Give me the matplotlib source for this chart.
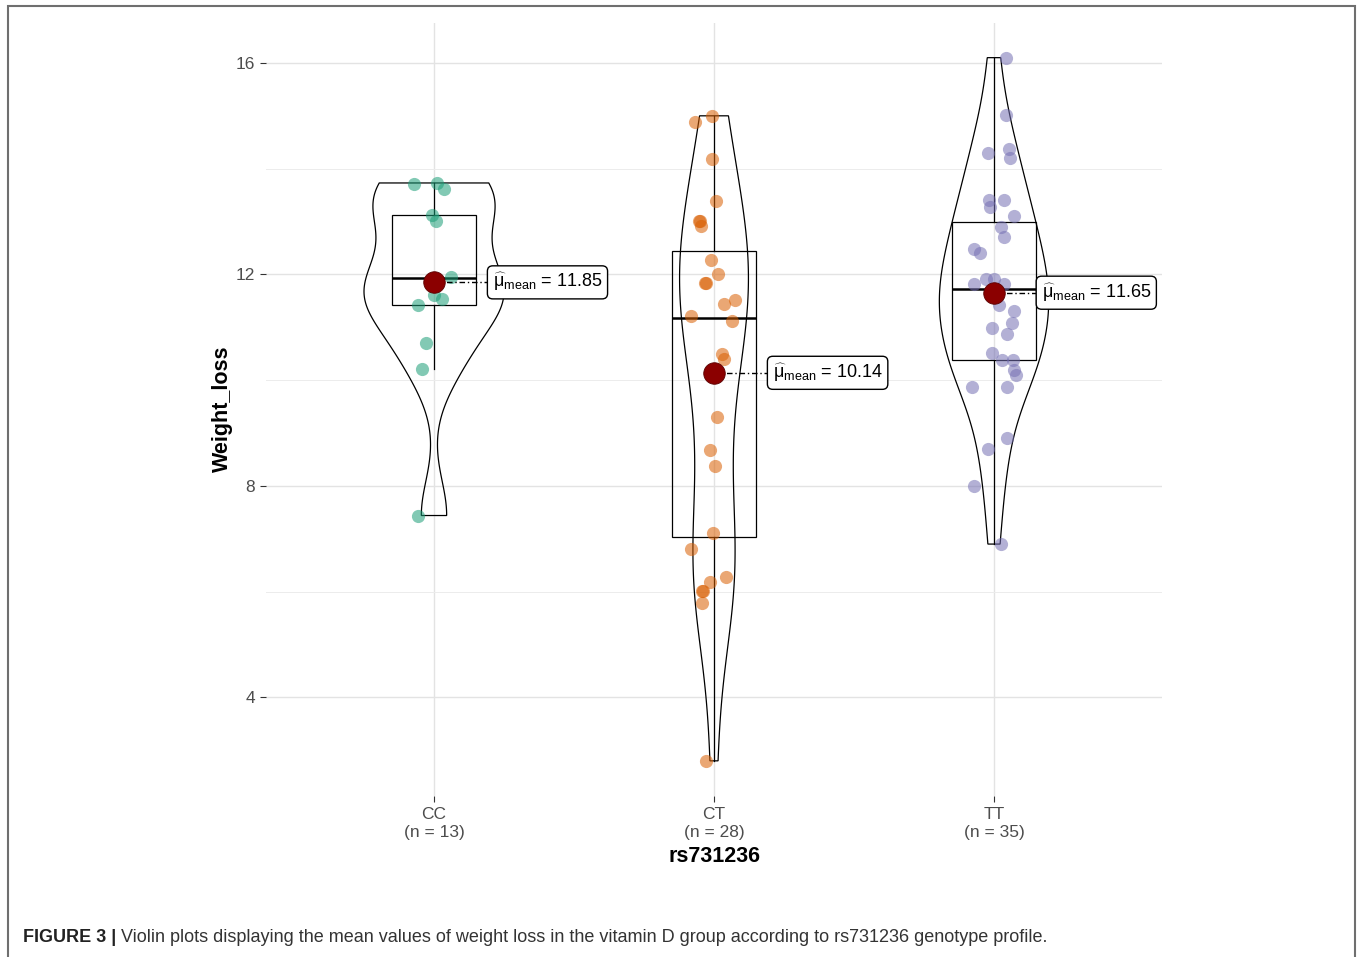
import numpy as np
import matplotlib
matplotlib.use("Agg")
import matplotlib.pyplot as plt
from matplotlib.patches import Rectangle
from matplotlib.ticker import MultipleLocator

# ---------------- data ----------------
groups = ["CC", "CT", "TT"]
group_colors = ["#1B9E77", "#D95F02", "#7570B3"]

cc_values = [13.71, 13.73, 13.62, 13.13, 13.01, 11.95, 11.54, 11.43, 10.71, 10.22, 7.44, 11.62, 11.94]
cc_jitter = [-0.071, 0.011, 0.036, -0.007, 0.007, 0.061, 0.029, -0.057, -0.029, -0.043, -0.057, 0.0, 0.0]

ct_values = [15.00, 14.88, 14.18, 13.38, 13.01, 13.01, 12.92, 12.28, 12.01, 11.84, 11.84, 11.52, 11.44,
             11.22, 11.12, 10.50, 10.40, 9.30, 8.68, 8.38, 7.10, 6.81, 6.28, 6.18, 6.02, 6.02, 5.78, 2.80]
ct_jitter = [-0.007, -0.068, -0.007, 0.007, -0.054, -0.050, -0.046, -0.011, 0.014, -0.032, -0.029, 0.075,
             0.036, -0.082, 0.064, 0.029, 0.036, 0.011, -0.014, 0.004, -0.004, -0.082, 0.043, -0.014,
             -0.043, -0.039, -0.043, -0.029]

tt_values = [16.10, 15.01, 14.38, 14.29, 14.21, 13.40, 13.40, 13.27, 13.10, 12.89, 12.70, 12.49, 12.40,
             11.92, 11.92, 11.81, 11.81, 11.72, 11.59, 11.43, 11.30, 11.09, 10.98, 10.87, 10.51, 10.39,
             10.39, 10.20, 10.09, 9.88, 9.88, 8.90, 8.69, 7.99, 6.90]
tt_jitter = [0.043, 0.043, 0.054, -0.021, 0.057, -0.018, 0.036, -0.014, 0.071, 0.025, 0.036, -0.071,
             -0.050, -0.029, 0.0, -0.071, 0.036, 0.0, 0.011, 0.018, 0.071, 0.064, -0.007, 0.046, -0.007,
             0.029, 0.068, 0.071, 0.079, -0.079, 0.046, 0.046, -0.021, -0.071, 0.025]

all_values = [cc_values, ct_values, tt_values]
all_jitter = [cc_jitter, ct_jitter, tt_jitter]
label_offsets = [0.21, 0.21, 0.17]   # x offset of mean label text from group centre

caption_bold = "FIGURE 3 |"
caption_rest = (" Violin plots displaying the mean values of weight loss in the vitamin D group "
                "according to rs731236 genotype profile.")

# ---------------- style ----------------
plt.rcParams["font.family"] = ["Liberation Sans", "DejaVu Sans"]
plt.rcParams["mathtext.fontset"] = "custom"
plt.rcParams["mathtext.rm"] = "Liberation Sans"
plt.rcParams["mathtext.it"] = "Liberation Sans:italic"
plt.rcParams["mathtext.bf"] = "Liberation Sans:bold"

W, H = 1358, 957
fig = plt.figure(figsize=(W / 100, H / 100), dpi=100)
ax = fig.add_axes([266 / W, 1 - 796 / H, (1162 - 266) / W, (796 - 22.5) / H])

positions = np.arange(1, len(groups) + 1)


def kde_r(vals, grid):
    v = np.asarray(vals, dtype=float)
    n = len(v)
    sd = np.std(v, ddof=1)
    iqr = np.percentile(v, 75) - np.percentile(v, 25)
    bw = 0.9 * min(sd, iqr / 1.34) * n ** (-0.2)
    z = (grid[:, None] - v[None, :]) / bw
    return np.exp(-0.5 * z ** 2).sum(axis=1) / (n * bw * np.sqrt(2 * np.pi))


# densities (trimmed to data range), scale = "area"
grids, dens = [], []
for vals in all_values:
    g = np.linspace(min(vals), max(vals), 512)
    grids.append(g)
    dens.append(kde_r(vals, g))
dmax = max(d.max() for d in dens)
violin_half = 0.25

for pos, g, d in zip(positions, grids, dens):
    w = d / dmax * violin_half
    xs = np.concatenate([pos - w, (pos + w)[::-1]])
    ys = np.concatenate([g, g[::-1]])
    ax.fill(xs, ys, facecolor="none", edgecolor="black", linewidth=0.9, zorder=2)

# boxplots
ax.boxplot(all_values, positions=positions, widths=0.3, showfliers=False, whis=1.5,
           patch_artist=True, manage_ticks=False,
           boxprops=dict(facecolor="none", edgecolor="black", linewidth=0.9),
           whiskerprops=dict(color="black", linewidth=0.9),
           capprops=dict(linewidth=0),
           medianprops=dict(color="black", linewidth=1.8),
           zorder=3)

# jittered points
for pos, vals, jit, col in zip(positions, all_values, all_jitter, group_colors):
    ax.scatter(pos + np.asarray(jit), vals, s=90, color=col, alpha=0.55, linewidths=0, zorder=4)

# means + labels
for pos, vals, off in zip(positions, all_values, label_offsets):
    m = float(np.mean(vals))
    lx = pos + off
    ax.plot([pos, lx - 0.02], [m, m], color="black", linewidth=1.0,
            linestyle=(0, (4, 2, 1, 2)), zorder=5)
    ax.scatter([pos], [m], s=240, color="#8B0000", edgecolors="#5a0000", linewidths=0.6, zorder=6)
    ax.text(lx, m, r"$\widehat{\mathrm{\mu}}_{\mathrm{mean}}$" + f" = {m:.2f}", fontsize=13,
            ha="left", va="center", color="black", zorder=7,
            bbox=dict(boxstyle="round,pad=0.3,rounding_size=0.3", facecolor="white",
                      edgecolor="black", linewidth=1.0))

# axes
lo = min(min(v) for v in all_values)
hi = max(max(v) for v in all_values)
ext = (hi - lo) * 0.05
ax.set_ylim(lo - ext, hi + ext)
ax.set_xlim(0.4, 3.6)
ax.set_yticks([4, 8, 12, 16])
ax.yaxis.set_minor_locator(MultipleLocator(2))
ax.set_xticks(positions)
ax.set_xticklabels([f"{g}\n(n = {len(v)})" for g, v in zip(groups, all_values)], linespacing=1.25)
ax.tick_params(axis="both", which="major", length=4, width=0.8, color="#333333",
               labelcolor="#4D4D4D", labelsize=12.5, pad=4)
ax.tick_params(axis="y", which="minor", length=0)
for s in ax.spines.values():
    s.set_visible(False)
ax.grid(which="major", color="#E3E3E3", linewidth=1.0, zorder=0)
ax.grid(which="minor", axis="y", color="#ECECEC", linewidth=0.7, zorder=0)
ax.set_axisbelow(True)
ax.set_xlabel("rs731236", fontsize=15.5, fontweight="bold", labelpad=4)
ax.set_ylabel("Weight_loss", fontsize=15.5, fontweight="bold", labelpad=2)

# figure frame
fig.patches.append(Rectangle((8 / W, -0.02), (1355 - 8) / W, 1.02 - 6 / H, transform=fig.transFigure,
                             facecolor="none", edgecolor="#6f6f6f", linewidth=1.5))

# caption
cy = 1 - 938 / H
t1 = fig.text(23 / W, cy, caption_bold, fontsize=13, fontweight="bold", color="#222222",
              ha="left", va="center")
renderer = fig.canvas.get_renderer()
bb = t1.get_window_extent(renderer=renderer)
fig.text(bb.x1 / W, cy, caption_rest, fontsize=13, color="#333333", ha="left", va="center")

fig.savefig("out.png", dpi=100)
